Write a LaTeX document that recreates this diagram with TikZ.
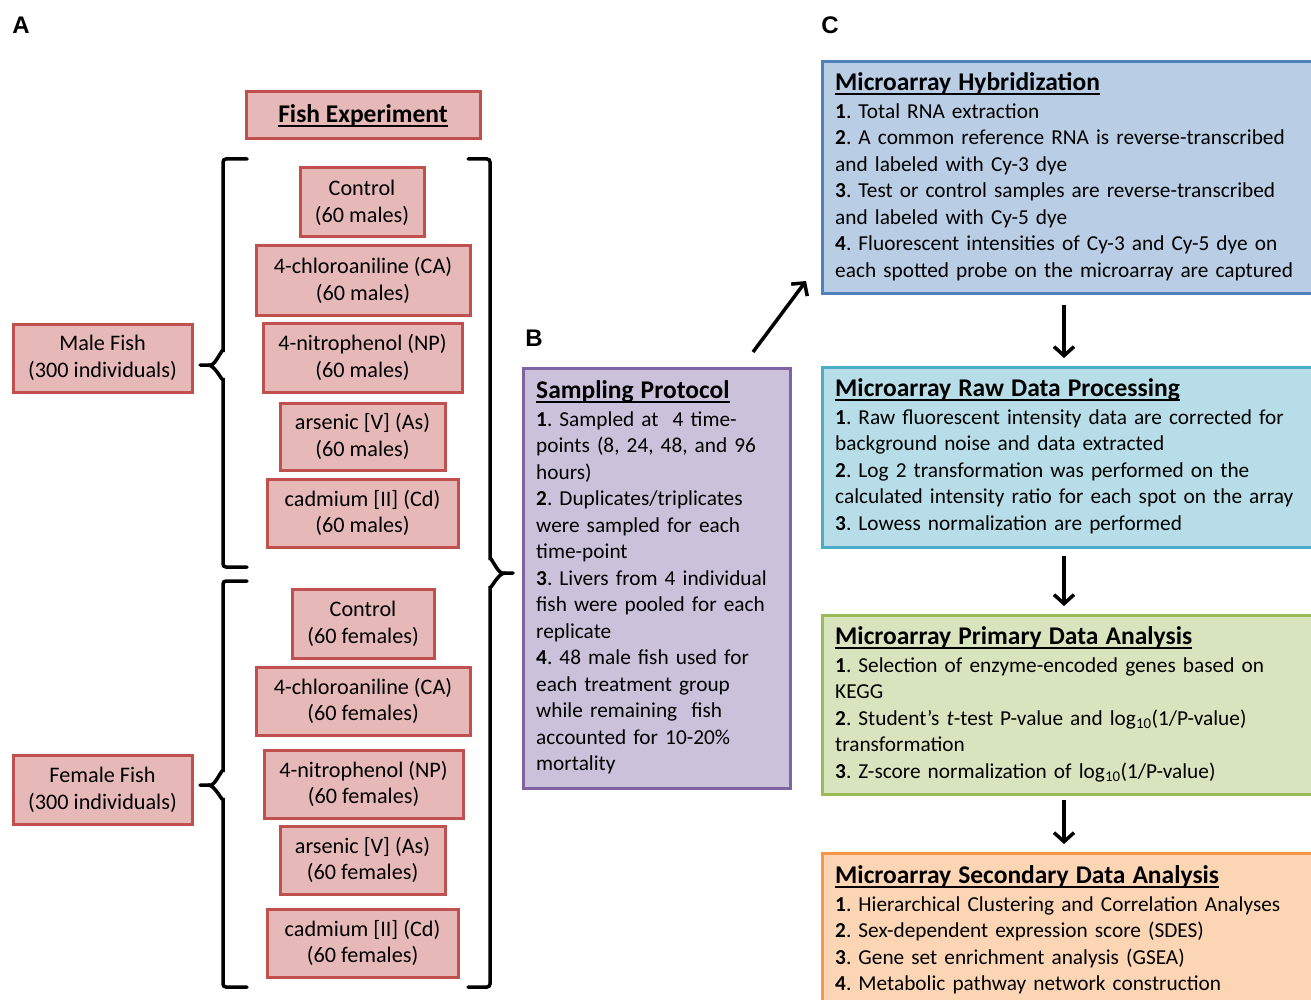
\documentclass[tikz,border=0pt]{standalone}
\usepackage{fontspec}
\setmainfont{Carlito}
\newfontfamily\lblfont{Liberation Sans}
\usetikzlibrary{arrows.meta}
\frenchspacing
\definecolor{pinkfill}{HTML}{E6B9B8}
\definecolor{pinkdraw}{HTML}{C0504D}
\definecolor{purplefill}{HTML}{CCC1DA}
\definecolor{purpledraw}{HTML}{8064A2}
\definecolor{bluefill}{HTML}{B9CDE5}
\definecolor{bluedraw}{HTML}{4F81BD}
\definecolor{aquafill}{HTML}{B7DEE8}
\definecolor{aquadraw}{HTML}{4BACC6}
\definecolor{greenfill}{HTML}{D7E4BD}
\definecolor{greendraw}{HTML}{9BBB59}
\definecolor{orangefill}{HTML}{FCD5B5}
\definecolor{orangedraw}{HTML}{F79646}
\newcommand\ulx[1]{\setbox0=\hbox{#1}\leavevmode\rlap{\vrule height -2.4pt depth 4.6pt width \wd0}\box0}
\newcommand\ttl[1]{{\fontsize{25.5}{26.5}\selectfont\bfseries\ulx{#1}}}
\newcommand\fst{\rule{0pt}{20pt}}
\tikzset{
  pinkbox/.style={draw=pinkdraw, fill=pinkfill, line width=3pt, align=center, inner sep=0pt,
    font=\fontsize{22.2}{26.8}\selectfont},
  panel/.style={line width=3pt, inner sep=0pt, anchor=north west},
  txt/.style={anchor=north west, inner sep=0pt, align=left, text width=#1,
    font=\fontsize{21.3}{26.5}\selectfont},
  brk/.style={line width=3.5pt, line cap=round, rounded corners=3pt},
  arr/.style={line width=3.5pt, -{Straight Barb[length=9pt,width=20pt]}},
  lbl/.style={font=\lblfont\bfseries\fontsize{24}{24}\selectfont, inner sep=0pt}
}
\begin{document}
\begin{tikzpicture}[x=1pt,y=-1pt]
\path[use as bounding box] (0,0) rectangle (1311,1000);
\clip (0,0) rectangle (1311,1000);
\fill[white] (0,0) rectangle (1311,1000);

% panel labels
\node[lbl] (la) at (21,25) {A};
\node[lbl] (lb) at (534,338) {B};
\node[lbl] (lc) at (830,25) {C};

% ----- Panel A -----
\node[pinkbox, minimum width=234pt, minimum height=47pt] (fexp) at (363,115.5)
  {\ttl{Fish Experiment}};

\node[pinkbox, minimum width=179pt, minimum height=68pt] (male) at (102.5,358) {Male Fish\\(300 individuals)};
\node[pinkbox, minimum width=179pt, minimum height=69pt] (female) at (102.5,789.5) {Female Fish\\(300 individuals)};

\node[pinkbox, minimum width=124pt, minimum height=69pt] (mctl) at (362,202.5) {Control\\(60 males)};
\node[pinkbox, minimum width=214pt, minimum height=69pt] (mca) at (363,280.5) {4-chloroaniline (CA)\\(60 males)};
\node[pinkbox, minimum width=199pt, minimum height=69pt] (mnp) at (362.5,357.5) {4-nitrophenol (NP)\\(60 males)};
\node[pinkbox, minimum width=165pt, minimum height=67pt] (mas) at (362.5,436.5) {arsenic [V] (As)\\(60 males)};
\node[pinkbox, minimum width=191pt, minimum height=68pt] (mcd) at (362.5,513) {cadmium [II] (Cd)\\(60 males)};

\node[pinkbox, minimum width=142pt, minimum height=69pt] (fctl) at (363,623.5) {Control\\(60 females)};
\node[pinkbox, minimum width=214pt, minimum height=68pt] (fca) at (363,701) {4-chloroaniline (CA)\\(60 females)};
\node[pinkbox, minimum width=199pt, minimum height=68pt] (fnp) at (363.5,784) {4-nitrophenol (NP)\\(60 females)};
\node[pinkbox, minimum width=165pt, minimum height=68pt] (fas) at (362.5,860) {arsenic [V] (As)\\(60 females)};
\node[pinkbox, minimum width=191pt, minimum height=68pt] (fcd) at (362.5,943) {cadmium [II] (Cd)\\(60 females)};

% brackets
\draw[brk] (247,159) -- (223,159) -- (223,354) to[out=90,in=0] (208,365) -- (200,365);
\draw[brk] (208,365) to[out=0,in=-90] (223,376) -- (223,567) -- (247,567);
\draw[brk] (247,581) -- (223,581) -- (223,774) to[out=90,in=0] (208,785) -- (200,785);
\draw[brk] (208,785) to[out=0,in=-90] (223,796) -- (223,987) -- (247,987);
\draw[brk] (468,159) -- (490,159) -- (490,562) to[out=90,in=180] (505,573) -- (513,573);
\draw[brk] (505,573) to[out=180,in=-90] (490,584) -- (490,987) -- (468,987);

% ----- Panel B -----
\node[panel, draw=purpledraw, fill=purplefill, minimum width=267pt, minimum height=420pt] (bbox) at (522,367) {};
\node[txt=300pt] (btext) at (536,378) {\fst\ttl{Sampling Protocol}\\[1.5pt]
\textbf{1}. Sampled at~~4 time-\\
points (8, 24, 48, and 96\\
hours)\\
\textbf{2}. Duplicates/triplicates\\
were sampled for each\\
time-point\\
\textbf{3}. Livers from 4 individual\\
fish were pooled for each\\
replicate\\
\textbf{4}. 48 male fish used for\\
each treatment group\\
while remaining~~fish\\
accounted for 10-20\%\\
mortality};

% ----- Panel C -----
\node[panel, draw=bluedraw, fill=bluefill, minimum width=500pt, minimum height=232pt] (c1) at (821,60) {};
\node[txt=480pt] (c1t) at (835,70) {\fst\ttl{Microarray Hybridization}\\[1.5pt]
\textbf{1}. Total RNA extraction\\
\textbf{2}. A common reference RNA is reverse-transcribed\\
and labeled with Cy-3 dye\\
\textbf{3}. Test or control samples are reverse-transcribed\\
and labeled with Cy-5 dye\\
\textbf{4}. Fluorescent intensities of Cy-3 and Cy-5 dye on\\
each spotted probe on the microarray are captured};

\node[panel, draw=aquadraw, fill=aquafill, minimum width=500pt, minimum height=180pt] (c2) at (821,366) {};
\node[txt=480pt] (c2t) at (835,376) {\fst\ttl{Microarray Raw Data Processing}\\[1.5pt]
\textbf{1}. Raw fluorescent intensity data are corrected for\\
background noise and data extracted\\
\textbf{2}. Log 2 transformation was performed on the\\
calculated intensity ratio for each spot on the array\\
\textbf{3}. Lowess normalization are performed};

\node[panel, draw=greendraw, fill=greenfill, minimum width=500pt, minimum height=179pt] (c3) at (821,614) {};
\node[txt=480pt] (c3t) at (835,624) {\fst\ttl{Microarray Primary Data Analysis}\\[1.5pt]
\textbf{1}. Selection of enzyme-encoded genes based on\\
KEGG\\
\textbf{2}. Student’s \textit{t}-test P-value and log\textsubscript{10}(1/P-value)\\
transformation\\
\textbf{3}. Z-score normalization of log\textsubscript{10}(1/P-value)};

\node[panel, draw=orangedraw, fill=orangefill, minimum width=500pt, minimum height=160pt] (c4) at (821,852) {};
\node[txt=480pt] (c4t) at (835,863) {\fst\ttl{Microarray Secondary Data Analysis}\\[1.5pt]
\textbf{1}. Hierarchical Clustering and Correlation Analyses\\
\textbf{2}. Sex-dependent expression score (SDES)\\
\textbf{3}. Gene set enrichment analysis (GSEA)\\
\textbf{4}. Metabolic pathway network construction};

% arrows
\coordinate (ax) at (1064,0);
\draw[arr, shorten <=10pt, shorten >=8pt] (c1.south -| ax) -- (c2.north -| ax);
\draw[arr, shorten <=7pt, shorten >=8pt] (c2.south -| ax) -- (c3.north -| ax);
\draw[arr, shorten <=4pt, shorten >=8pt] (c3.south -| ax) -- (c4.north -| ax);
\coordinate (bs) at ([xshift=-39pt,yshift=15pt]bbox.north east);
\coordinate (bt) at ([xshift=-15pt,yshift=14pt]c1.south west);
\draw[arr] (bs) -- (bt);
\end{tikzpicture}
\end{document}
